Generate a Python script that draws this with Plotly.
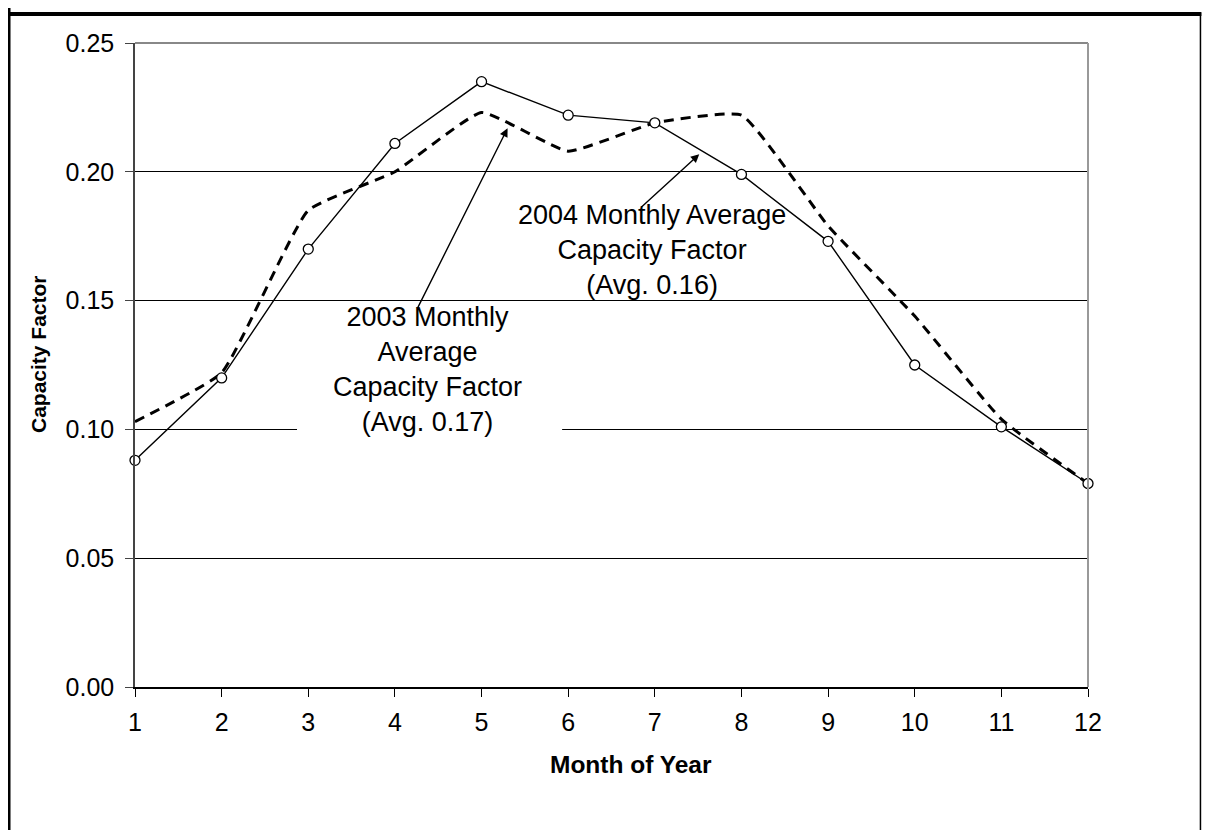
import plotly.graph_objects as go

# monthly average capacity factor
months = [1, 2, 3, 4, 5, 6, 7, 8, 9, 10, 11, 12]
cf_2003 = [0.103, 0.122, 0.185, 0.200, 0.223, 0.208, 0.219, 0.222, 0.179, 0.144, 0.104, 0.079]
cf_2004 = [0.088, 0.120, 0.170, 0.211, 0.235, 0.222, 0.219, 0.199, 0.173, 0.125, 0.101, 0.079]
y_ticks = [0.00, 0.05, 0.10, 0.15, 0.20, 0.25]

FONT = "Liberation Sans, Arial, sans-serif"

fig = go.Figure()

fig.add_trace(go.Scatter(
    x=months, y=cf_2003, mode="lines", name="2003",
    line=dict(color="black", width=3, dash="10px,7px", shape="spline", smoothing=0.4),
    cliponaxis=False, showlegend=False,
))
fig.add_trace(go.Scatter(
    x=months, y=cf_2004, mode="lines+markers", name="2004",
    line=dict(color="black", width=1.4),
    marker=dict(symbol="circle", size=10, color="white", line=dict(color="black", width=1.3)),
    cliponaxis=False, showlegend=False,
))

# page body adds an 8px margin, so the figure is smaller and margins shifted
fig.update_layout(
    width=1203, height=822,
    margin=dict(l=127, r=123, t=35, b=143),
    paper_bgcolor="white", plot_bgcolor="white",
    font=dict(family=FONT, color="black", size=25),
    xaxis=dict(
        range=[1, 12], tickvals=months, ticks="outside", ticklen=8, tickcolor="black",
        showline=True, linecolor="black", linewidth=1.5, showgrid=False, zeroline=False,
        tickfont=dict(size=25), ticklabelstandoff=4,
    ),
    yaxis=dict(
        range=[0, 0.25], tickvals=y_ticks, tickformat=".2f", ticks="outside", ticklen=8,
        tickcolor="#444", showline=True, linecolor="#444", linewidth=1.5,
        showgrid=True, gridcolor="black", gridwidth=1, zeroline=False,
        tickfont=dict(size=25), ticklabelstandoff=6,
    ),
)

# white patch behind the 2003 label (hides the 0.10 gridline)
fig.add_shape(type="rect", xref="x", yref="y", x0=2.87, x1=5.93, y0=0.095, y1=0.105,
              fillcolor="white", line=dict(width=0), layer="above")

# plot area top / right border (gray)
fig.add_shape(type="line", xref="paper", yref="paper", x0=0, x1=1, y0=1, y1=1,
              line=dict(color="#888", width=2), layer="above")
fig.add_shape(type="line", xref="paper", yref="paper", x0=1, x1=1, y0=0, y1=1,
              line=dict(color="#999", width=2), layer="above")

# outer chart frame
fig.add_shape(type="line", xref="paper", yref="paper", x0=-0.1322, x1=-0.1322, y0=-0.25, y1=1.06,
              line=dict(color="black", width=3))
fig.add_shape(type="line", xref="paper", yref="paper", x0=-0.14, x1=1.119, y0=1.045, y1=1.045,
              line=dict(color="black", width=4))
fig.add_shape(type="line", xref="paper", yref="paper", x0=1.118, x1=1.118, y0=-0.25, y1=1.047,
              line=dict(color="black", width=1.5))

# axis titles
fig.add_annotation(text="<b>Month of Year</b>", xref="paper", yref="paper", x=0.5205, y=-0.1196,
                   showarrow=False, font=dict(size=24.5), xanchor="center", yanchor="middle")
fig.add_annotation(text="<b>Capacity Factor</b>", xref="paper", yref="paper", x=-0.1018, y=0.517,
                   showarrow=False, font=dict(size=21), textangle=-90, xanchor="center", yanchor="middle")

# data labels
fig.add_annotation(text="2003 Monthly<br>Average<br>Capacity Factor<br>(Avg. 0.17)",
                   x=4.38, y=0.1234, showarrow=False, font=dict(size=27), align="center")
fig.add_annotation(text="2004 Monthly Average<br>Capacity Factor<br>(Avg. 0.16)",
                   x=6.967, y=0.1696, showarrow=False, font=dict(size=27), align="center")

# arrows
fig.add_annotation(text="", x=5.30, y=0.2169, ax=4.251, ay=0.1464, axref="x", ayref="y",
                   showarrow=True, arrowhead=2, arrowsize=1.2, arrowwidth=1.4, arrowcolor="black",
                   standoff=0, startstandoff=0)
fig.add_annotation(text="", x=7.513, y=0.2068, ax=6.829, ay=0.1858, axref="x", ayref="y",
                   showarrow=True, arrowhead=2, arrowsize=1.2, arrowwidth=1.4, arrowcolor="black",
                   standoff=0, startstandoff=0)

fig.write_html("out.html")
